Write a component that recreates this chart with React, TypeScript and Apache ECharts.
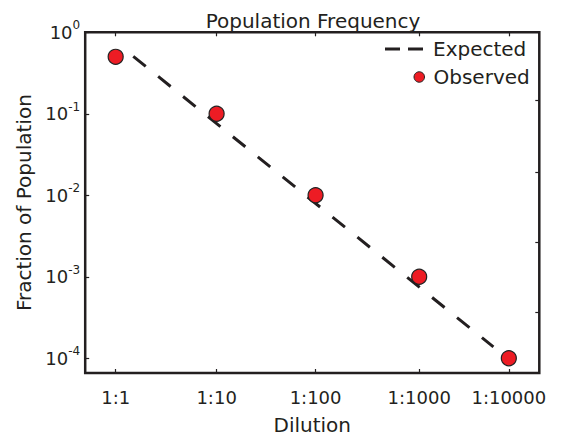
import { useEffect, useRef } from "react";
import * as echarts from "echarts";

const titleText = "Population Frequency";
const xAxisName = "Dilution";
const yAxisName = "Fraction of Population";
const dilutionLabels = ["1:1", "1:10", "1:100", "1:1000", "1:10000"];
const dilutionPositions = [0, 1.027, 2.034, 3.088, 4];
const observedValues = [0.5, 0.1, 0.01, 0.001, 0.0001];
const expectedX = [0.179, 3.843];
const expectedY = [0.507, 0.000138];
const yTickValues = [1, 0.1, 0.01, 0.001, 0.0001];
const rightTickValues = [0.1456, 0.0194, 0.00266, 0.000372];
const xRange = [-0.31, 4.31];
const yRange = [0.000066, 1];

const INK = "#231f20";
const RED = "#ed1c24";
const FONT = "DejaVu Sans";

export default function App() {
  const ref = useRef<HTMLDivElement>(null);
  useEffect(() => {
    if (!ref.current) return;
    document.body.style.margin = "0";
    const chart = echarts.init(ref.current, null, { renderer: "svg" });
    const labelFor = (v: number) => {
      let best = 0;
      dilutionPositions.forEach((p, i) => {
        if (Math.abs(p - v) < Math.abs(dilutionPositions[best] - v)) best = i;
      });
      return dilutionLabels[best];
    };
    const tickStyle = { color: INK, width: 1.2 };
    chart.setOption({
      animation: false,
      textStyle: { fontFamily: FONT, color: INK },
      title: {
        text: titleText,
        left: 313,
        textAlign: "center",
        top: 11,
        padding: 0,
        textStyle: { fontFamily: FONT, fontSize: 20, fontWeight: "normal", color: INK },
      },
      legend: [
        {
          data: [{ name: "Expected", icon: "path://M0,0h15v3h-15z M23,0h15v3h-15z" }],
          orient: "vertical",
          left: 385,
          top: 39,
          padding: 0,
          itemWidth: 38,
          itemHeight: 3,
          itemStyle: { color: INK, borderWidth: 0 },
          textStyle: { fontFamily: FONT, fontSize: 20, color: INK, lineHeight: 20, padding: [0, 0, 0, 5] },
        },
        {
          data: [{ name: "Observed", icon: "circle" }],
          orient: "vertical",
          left: 413.5,
          top: 67,
          padding: 0,
          itemWidth: 10.5,
          itemHeight: 10.5,
          itemStyle: { color: RED, borderColor: "#222", borderWidth: 1 },
          textStyle: { fontFamily: FONT, fontSize: 20, color: INK, lineHeight: 20, padding: [0, 0, 0, 4] },
        },
      ],
      grid: {
        left: 85.2,
        right: 28.7,
        top: 32.3,
        bottom: 63,
        show: true,
        borderColor: INK,
        borderWidth: 2.5,
        backgroundColor: "transparent",
        outerBoundsMode: "none",
      },
      xAxis: [
        {
          type: "value",
          min: xRange[0],
          max: xRange[1],
          name: xAxisName,
          nameLocation: "middle",
          nameGap: 42,
          nameTextStyle: { fontFamily: FONT, fontSize: 20, color: INK },
          axisLine: { show: false, onZero: false },
          splitLine: { show: false },
          axisTick: { inside: true, length: 4, customValues: dilutionPositions, lineStyle: tickStyle },
          axisLabel: {
            customValues: dilutionPositions,
            formatter: (v: number) => labelFor(v),
            fontFamily: FONT,
            fontSize: 18,
            color: INK,
            margin: 15,
          },
        },
        {
          type: "value",
          position: "top",
          min: xRange[0],
          max: xRange[1],
          axisLine: { show: false, onZero: false },
          splitLine: { show: false },
          axisLabel: { show: false },
          axisTick: { inside: true, length: 4, customValues: dilutionPositions, lineStyle: tickStyle },
        },
      ],
      yAxis: [
        {
          type: "log",
          min: yRange[0],
          max: yRange[1],
          name: yAxisName,
          nameLocation: "middle",
          nameGap: 46,
          nameTextStyle: { fontFamily: FONT, fontSize: 20, color: INK },
          axisLine: { show: false, onZero: false },
          splitLine: { show: false },
          minorTick: { show: false },
          axisTick: { inside: true, length: 4, customValues: yTickValues, lineStyle: tickStyle },
          axisLabel: {
            customValues: yTickValues,
            margin: 5,
            formatter: (v: number) => `{b|10}{s|${Math.round(Math.log10(v))}}`,
            rich: {
              b: { fontFamily: FONT, fontSize: 18, color: INK, lineHeight: 26 },
              s: { fontFamily: FONT, fontSize: 12, color: INK, lineHeight: 14, verticalAlign: "top" },
            },
          },
        },
        {
          type: "log",
          position: "right",
          min: yRange[0],
          max: yRange[1],
          axisLine: { show: false, onZero: false },
          splitLine: { show: false },
          axisLabel: { show: false },
          axisTick: { inside: true, length: 4, customValues: rightTickValues, lineStyle: tickStyle },
        },
      ],
      series: [
        {
          name: "Expected",
          type: "line",
          symbol: "none",
          data: expectedX.map((x, i) => [x, expectedY[i]]),
          lineStyle: { color: INK, width: 3, type: [16, 16] },
          itemStyle: { color: INK },
          z: 2,
        },
        {
          name: "Observed",
          type: "scatter",
          symbol: "circle",
          symbolSize: 15,
          data: dilutionPositions.map((x, i) => [x, observedValues[i]]),
          itemStyle: { color: RED, borderColor: "#222", borderWidth: 1.2, opacity: 1 },
          z: 3,
        },
      ],
    });
    return () => chart.dispose();
  }, []);
  return <div ref={ref} style={{ width: 568, height: 436 }} />;
}
